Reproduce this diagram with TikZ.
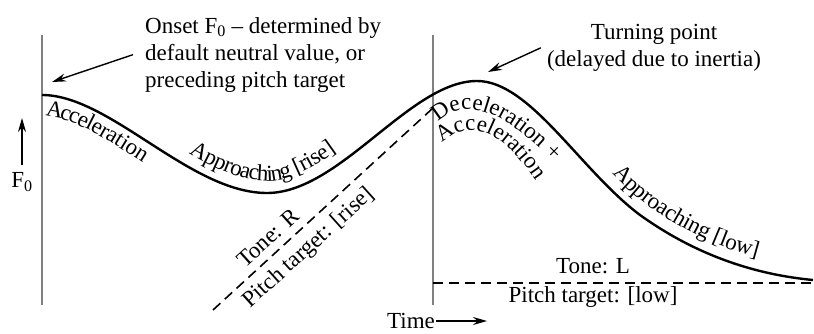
\documentclass[tikz,border=0pt]{standalone}
\usepackage{fontspec}
\setmainfont{Liberation Serif}
\usetikzlibrary{arrows.meta,decorations.text}

\begin{document}
\fontsize{23}{27}\selectfont
\begin{tikzpicture}[x=1pt, y=-1pt,
        contour/.style={
            line width=2.4pt,
        },
        guide/.style={
            draw=gray,
            line width=1.6pt,
        },
        target/.style={
            dash pattern=on 10pt off 6pt,
            line width=1.6pt,
        },
        pointer/.style={
            -{Stealth[length=14pt,width=8pt]},
            line width=1.4pt,
        },
        note/.style={
            inner sep=0pt,
        },
    ]

    \useasboundingbox (0,0) rectangle (814,334);

    \coordinate (start) at (42,95);
    \coordinate (dip) at (267,193);
    \coordinate (peak) at (477,81);
    \coordinate (bend) at (640,215);
    \coordinate (tail) at (813,280);

    \draw [guide] (42,35) -- (42,305);
    \draw [guide] (433,35) -- (433,305);

    \draw [contour] (start) .. controls (110,95) and (190,193) .. (dip)
        .. controls (340,193) and (410,81) .. (peak)
        .. controls (530,81) and (580,170) .. (bend)
        .. controls (700,258) and (760,275) .. (tail);

    % labels along the contour
    \path [decorate, decoration={text along path, raise=-21pt,
        text align={left indent=7pt}, text={Acceleration}}]
        (start) .. controls (112,95) and (192,193) .. (dip);
    \path [decorate, decoration={text along path, raise=12pt,
        text align=center, text={Approaching [rise]}}]
        (start) .. controls (110,95) and (190,193) .. (dip)
        .. controls (340,193) and (410,81) .. (peak);
    \path [decorate, decoration={text along path,
        text={Deceleration +}}]
        (438,122) .. controls (460,100) and (500,98) .. (575,185);
    \path [decorate, decoration={text along path,
        text={Acceleration}}]
        (442,143) .. controls (465,122) and (500,118) .. (548,200);
    \path [decorate, decoration={text along path, raise=12pt,
        text align={left indent=166pt}, text={Approaching [low]}}]
        (peak) .. controls (530,81) and (580,170) .. (bend)
        .. controls (700,258) and (760,275) .. (tail);

    \coordinate (riselow) at (213,310);
    \coordinate (risehigh) at (433,108);
    \draw [target] (riselow) -- (risehigh);
    \node (toneR) at (268,238) [rotate=42] {Tone: R};
    \node (targetR) at (309,248) [rotate=42] {Pitch target: [rise]};

    \coordinate (flatleft) at (433,283);
    \coordinate (flatright) at (813,283);
    \draw [target] (flatleft) -- (flatright);
    \node (toneL) at (593,266) {Tone: L};
    \node (targetL) at (593,297) {Pitch target: [low]};

    \node (onsetnote) at (145,17) [note, anchor=north west, align=left]
        {Onset F\textsubscript{0} -- determined by\\ default neutral value, or\\ preceding pitch target};
    \coordinate (onsettip) at (52,82);
    \draw [pointer] ([xshift=-12pt]onsetnote.west) -- (onsettip);

    \node (turnnote) at (654,24) [note, anchor=north, align=center]
        {Turning point\\ (delayed due to inertia)};
    \coordinate (turntip) at (488,72);
    \draw [pointer] ([xshift=-6pt]turnnote.west) -- (turntip);

    \node (fzero) at (22,182) {F\textsubscript{0}};
    \coordinate (fup) at (22,118);
    \draw [pointer] (fzero.north) -- (fup);

    \node (timelabel) at (411,321) [inner sep=1pt] {Time};
    \coordinate (timetip) at (487,321);
    \draw [pointer] (timelabel.east) -- (timetip);

\end{tikzpicture}
\end{document}
